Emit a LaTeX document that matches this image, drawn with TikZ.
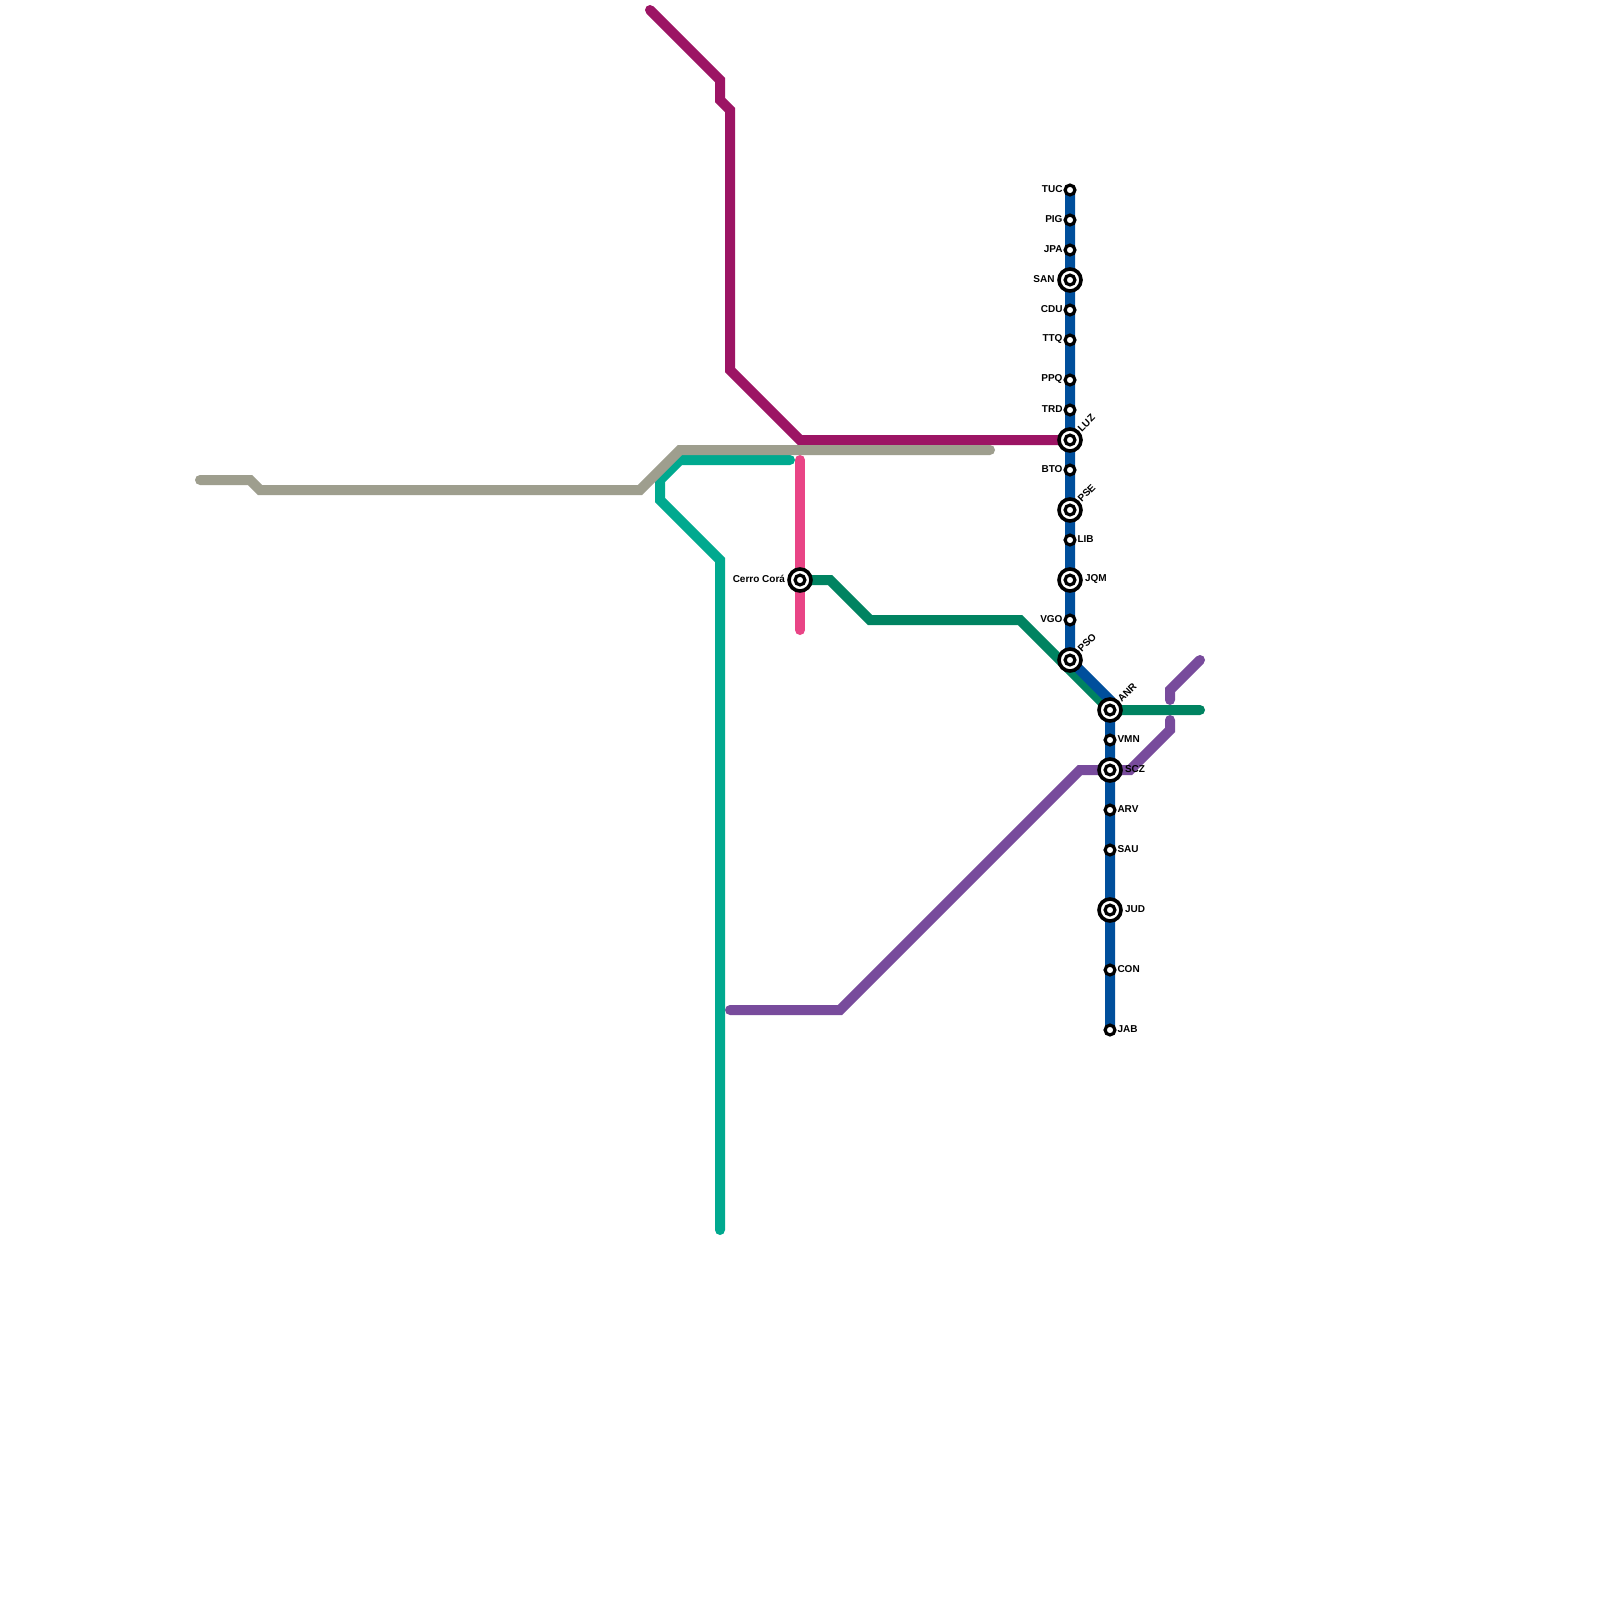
\documentclass[tikz,border=0pt]{standalone}
\usepackage{fontspec}
\setmainfont{Liberation Sans}
\definecolor{lblue}{HTML}{004F9C}
\definecolor{lgreen}{HTML}{008361}
\definecolor{lteal}{HTML}{00A98F}
\definecolor{lmag}{HTML}{9C1464}
\definecolor{lgray}{HTML}{9E9E8E}
\definecolor{lpink}{HTML}{E94586}
\definecolor{lpurple}{HTML}{784B9C}
\tikzset{
  metro/.style={line width=10pt,line cap=round,line join=miter,miter limit=10},
  small/.style={circle,draw=black,fill=white,line width=3.2pt,minimum size=9.8pt,inner sep=0pt,outer sep=0pt},
  big/.style={circle,draw=black,fill=white,line width=3.6pt,minimum size=22pt,inner sep=0pt,outer sep=0pt},
  inner/.style={circle,draw=black,fill=white,line width=3.2pt,minimum size=9.8pt,inner sep=0pt,outer sep=0pt},
  lab/.style={font=\bfseries\fontsize{10}{10}\selectfont,inner sep=0pt,outer sep=0pt,text=black},
  labl/.style={lab,anchor=east},
  labr/.style={lab,anchor=west},
  labd/.style={lab,anchor=west,rotate=45},
}
\begin{document}
\begin{tikzpicture}[x=1pt,y=-1pt]
\useasboundingbox (0,0) rectangle (1600,1600);
\fill[white] (0,0) rectangle (1600,1600);
% stations
\foreach \n/\x/\y in {TUC/1070/190,PIG/1070/220,JPA/1070/250,SAN/1070/280,CDU/1070/310,TTQ/1070/340,PPQ/1070/380,TRD/1070/410,LUZ/1070/440,BTO/1070/470,PSE/1070/510,LIB/1070/540,JQM/1070/580,VGO/1070/620,PSO/1070/660,ANR/1110/710,VMN/1110/740,SCZ/1110/770,ARV/1110/810,SAU/1110/850,JUD/1110/910,CON/1110/970,JAB/1110/1030,CC/800/580}
  {\coordinate (p\n) at (\x,\y);}
% purple
\draw[metro,lpurple] (730,1010) -- (840,1010) -- (1080,770) -- (pSCZ) -- (1130,770) -- (1170,730) -- (1170,720);
\draw[metro,lpurple] (1170,700) -- (1170,690) -- (1200,660);
% pink
\draw[metro,lpink] (800,460) -- (pCC) -- (800,630);
% teal
\draw[metro,lteal] (790,460) -- (680,460) -- (660,480) -- (660,500) -- (720,560) -- (720,1230);
% magenta
\draw[metro,lmag] (650,10) -- (720,80) -- (720,100) -- (730,110) -- (730,370) -- (800,440) -- (pLUZ);
% gray
\draw[metro,lgray] (200,480) -- (250,480) -- (260,490) -- (640,490) -- (680,450) -- (990,450);
% green
\draw[metro,lgreen] (pCC) -- (830,580) -- (870,620) -- (1020,620) -- (pANR) -- (1200,710);
% blue
\draw[metro,lblue] (pTUC) -- (pPSO) -- (1110,700) -- (pJAB);
% small stations
\foreach \n in {TUC,PIG,JPA,CDU,TTQ,PPQ,TRD,BTO,LIB,VGO,VMN,ARV,SAU,CON,JAB}
  {\node[small] (s\n) at (p\n) {};}
\foreach \n in {SAN,LUZ,PSE,JQM,PSO,ANR,SCZ,JUD,CC}
  {\node[big] (s\n) at (p\n) {}; \node[inner] (i\n) at (p\n) {};}
% labels
\foreach \n/\t in {TUC/TUC,PIG/PIG,JPA/JPA,CDU/CDU,TTQ/TTQ,PPQ/PPQ,TRD/TRD,BTO/BTO,VGO/VGO}
  {\node[labl] (l\n) at ([xshift=-7.5pt,yshift=0.8pt]p\n) {\t};}
\node[labl] (lSAN) at ([xshift=-15.5pt,yshift=0.8pt]pSAN) {SAN};
\node[labl] (lCC) at ([xshift=-15pt,yshift=0.8pt]pCC) {Cerro Corá};
\foreach \n/\t in {LIB/LIB,VMN/VMN,ARV/ARV,SAU/SAU,CON/CON,JAB/JAB}
  {\node[labr] (l\n) at ([xshift=7.5pt,yshift=0.8pt]p\n) {\t};}
\foreach \n/\t in {JQM/JQM,SCZ/SCZ,JUD/JUD}
  {\node[labr] (l\n) at ([xshift=15pt,yshift=0.8pt]p\n) {\t};}
\foreach \n/\t in {LUZ/LUZ,PSE/PSE,PSO/PSO,ANR/ANR}
  {\node[labd] (l\n) at ([xshift=9.5pt,yshift=10pt]p\n) {\t};}
\end{tikzpicture}
\end{document}
